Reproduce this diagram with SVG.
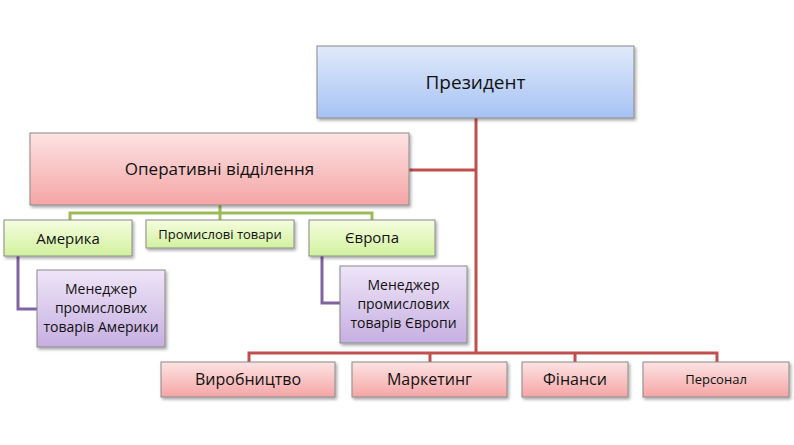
<svg xmlns="http://www.w3.org/2000/svg" width="794" height="445" viewBox="0 0 794 445">
<defs>
<linearGradient id="gBlue" x1="0" y1="0" x2="0" y2="1"><stop offset="0" stop-color="#e1eafb"/><stop offset="1" stop-color="#a6c2f4"/></linearGradient>
<linearGradient id="gRed" x1="0" y1="0" x2="0" y2="1"><stop offset="0" stop-color="#fde3e3"/><stop offset="1" stop-color="#f5a5a5"/></linearGradient>
<linearGradient id="gGreen" x1="0" y1="0" x2="0" y2="1"><stop offset="0" stop-color="#f5fde0"/><stop offset="1" stop-color="#d2f29e"/></linearGradient>
<linearGradient id="gPurple" x1="0" y1="0" x2="0" y2="1"><stop offset="0" stop-color="#efe5f8"/><stop offset="1" stop-color="#c6afe2"/></linearGradient>
<filter id="sh" x="-10%" y="-10%" width="130%" height="140%"><feDropShadow dx="1.5" dy="2" stdDeviation="1.5" flood-color="#000" flood-opacity="0.35"/></filter>
</defs>
<style>
.box{stroke:#8a8a8a;stroke-width:1;filter:url(#sh)}
.t{font-family:"Open Sans","Liberation Sans",sans-serif;fill:#111;text-anchor:middle}
.red{stroke:#c0504d;stroke-width:3;fill:none}
.grn{stroke:#9bbb59;stroke-width:3;fill:none}
.pur{stroke:#8064a2;stroke-width:3;fill:none}
</style>
<rect width="794" height="445" fill="#fff"/>
<g id="connectors">
<path class="red" d="M476 118 V353 M409 170 H476 M249 362 V353 H717 V362 M430 353 V362 M575 353 V362"/>
<path class="grn" d="M220 205 V213 M70 220 V213 H372 V220 M220 213 V220"/>
<path class="pur" d="M18 256 V309 H37"/>
<path class="pur" d="M322 256 V303 H340"/>
</g>
<g id="president"><rect class="box" x="317" y="46" width="317" height="72" fill="url(#gBlue)"/><text class="t" x="475.5" y="89" font-size="19">Президент</text></g>
<g id="operative"><rect class="box" x="30" y="133" width="379" height="72" fill="url(#gRed)"/><text class="t" x="219.5" y="175" font-size="17">Оперативні відділення</text></g>
<g id="america"><rect class="box" x="4" y="220" width="128" height="36" fill="url(#gGreen)"/><text class="t" x="68" y="244" font-size="15">Америка</text></g>
<g id="industrial"><rect class="box" x="146" y="220" width="148" height="28" fill="url(#gGreen)"/><text class="t" x="220" y="239" font-size="13">Промислові товари</text></g>
<g id="europe"><rect class="box" x="309" y="220" width="126" height="36" fill="url(#gGreen)"/><text class="t" x="372" y="243" font-size="15">Європа</text></g>
<g id="mgr-america"><rect class="box" x="37" y="270" width="128" height="77" fill="url(#gPurple)"/><text class="t" font-size="14"><tspan x="101" y="294">Менеджер</tspan><tspan x="101" y="313">промислових</tspan><tspan x="101" y="332">товарів Америки</tspan></text></g>
<g id="mgr-europe"><rect class="box" x="340" y="266" width="127" height="77" fill="url(#gPurple)"/><text class="t" font-size="14"><tspan x="403.5" y="290">Менеджер</tspan><tspan x="403.5" y="309">промислових</tspan><tspan x="403.5" y="328">товарів Європи</tspan></text></g>
<g id="production"><rect class="box" x="161" y="362" width="174" height="35" fill="url(#gRed)"/><text class="t" x="248" y="385" font-size="16">Виробництво</text></g>
<g id="marketing"><rect class="box" x="352" y="362" width="155" height="35" fill="url(#gRed)"/><text class="t" x="429.5" y="385" font-size="16">Маркетинг</text></g>
<g id="finance"><rect class="box" x="522" y="362" width="106" height="35" fill="url(#gRed)"/><text class="t" x="575" y="385" font-size="16">Фінанси</text></g>
<g id="personnel"><rect class="box" x="643" y="362" width="146" height="35" fill="url(#gRed)"/><text class="t" x="716" y="384" font-size="13">Персонал</text></g>
</svg>
